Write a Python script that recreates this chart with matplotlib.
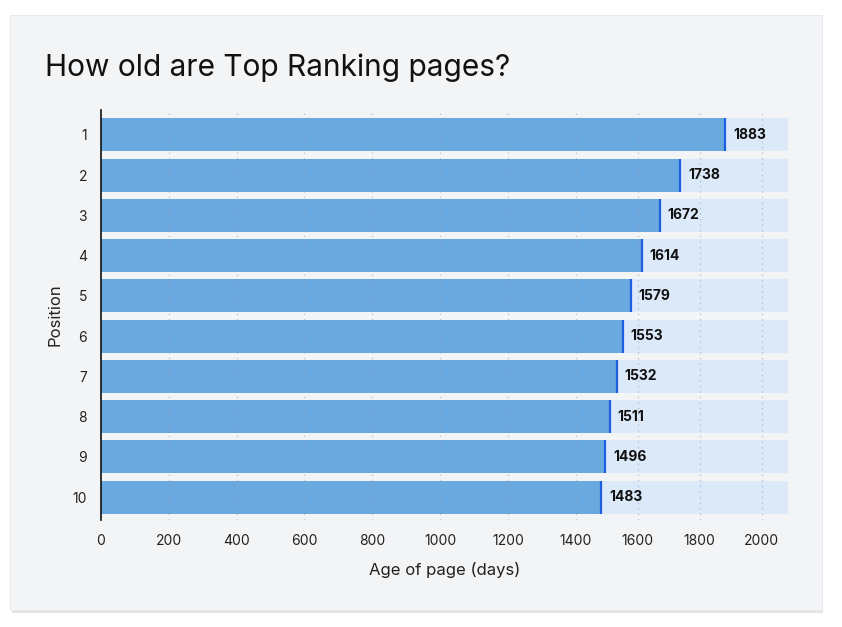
import numpy as np
import matplotlib.pyplot as plt
from matplotlib.patches import Rectangle

# -------------------- dados
positions = [1, 2, 3, 4, 5, 6, 7, 8, 9, 10]
age_days = [1883, 1738, 1672, 1614, 1579, 1553, 1532, 1511, 1496, 1483]
x_ticks = [0, 200, 400, 600, 800, 1000, 1200, 1400, 1600, 1800, 2000]

TITLE = "How old are Top Ranking pages?"
X_MAX = 2085

# escala do eixo x da referência: mais comprimida acima de 1400
SCALE_DATA = [0, 1400, 2200]
SCALE_PIX = [0, 474.7, 474.7 + 800 * 0.31]

# -------------------- cores
CARD_BG = "#F3F4F6"
BAR_COLOR = "#6AA9E0"
TRACK_COLOR = "#DBE9F9"
END_COLOR = "#1D5FE0"

plt.rcParams.update({
    "font.family": ["Inter", "DejaVu Sans"],
    "font.size": 10,
})


def _fwd(x):
    return np.interp(x, SCALE_DATA, SCALE_PIX, left=-1e9, right=1e9)


def _inv(p):
    return np.interp(p, SCALE_PIX, SCALE_DATA)


fig = plt.figure(figsize=(8.42, 6.27), dpi=100)
fig.patch.set_facecolor("white")

# cartão cinza com leve sombra
shadow = Rectangle((11.5 / 842, 1 - 612.5 / 627), 811 / 842, 596 / 627,
                   transform=fig.transFigure, facecolor="#0000001A",
                   edgecolor="none", zorder=-3)
card = Rectangle((10 / 842, 1 - 610 / 627), 812 / 842, 595 / 627,
                 transform=fig.transFigure, facecolor=CARD_BG,
                 edgecolor="#E6E7EA", lw=0.6, zorder=-2)
fig.add_artist(shadow)
fig.add_artist(card)

ax = fig.add_axes([101 / 842, 1 - 520 / 627, 687 / 842, 410 / 627])
ax.set_facecolor("none")
ax.set_zorder(1)
ax.set_xscale("function", functions=(_fwd, _inv))

y = np.array(positions)
h = 0.82
ax.barh(y, [X_MAX] * len(y), height=h, color=TRACK_COLOR, zorder=1)
ax.barh(y, age_days, height=h, color=BAR_COLOR, zorder=2)
# marcador no fim da barra + rótulo
for yi, v in zip(y, age_days):
    ax.plot([v, v], [yi - h / 2, yi + h / 2], color=END_COLOR, lw=1.6,
            solid_capstyle="butt", zorder=3)
    ax.annotate(f"{v}", xy=(v, yi), xytext=(5.5, 0), textcoords="offset points",
                ha="left", va="center", fontsize=10, fontweight="bold",
                color="#111111", zorder=5)

# grade pontilhada por cima das barras
for xt in x_ticks[1:]:
    ax.axvline(xt, color="#9AA7B8", lw=1.0, ls=(0, (1, 3)), alpha=0.6, zorder=4)

ax.set_xlim(0, X_MAX)
ax.set_ylim(10.57, 0.38)
ax.set_xticks(x_ticks)
ax.set_xticklabels([str(t) for t in x_ticks])
ax.minorticks_off()
ax.set_yticks(positions)
ax.set_yticklabels([str(p) for p in positions])
ax.tick_params(axis="both", length=0, labelsize=10, colors="#222222")
ax.tick_params(axis="x", pad=10)
ax.tick_params(axis="y", pad=10)

for s in ("top", "right", "bottom"):
    ax.spines[s].set_visible(False)
ax.spines["left"].set_color("#111111")
ax.spines["left"].set_linewidth(1.2)

ax.set_xlabel("Age of page (days)", fontsize=12, labelpad=10, color="#222222")
ax.set_ylabel("Position", fontsize=12, labelpad=7, color="#222222")

fig.text(45 / 842, 1 - 68 / 627, TITLE, fontsize=21.5, ha="left", va="center",
         color="#111111")

fig.savefig("out.png", dpi=100, facecolor=fig.get_facecolor())
